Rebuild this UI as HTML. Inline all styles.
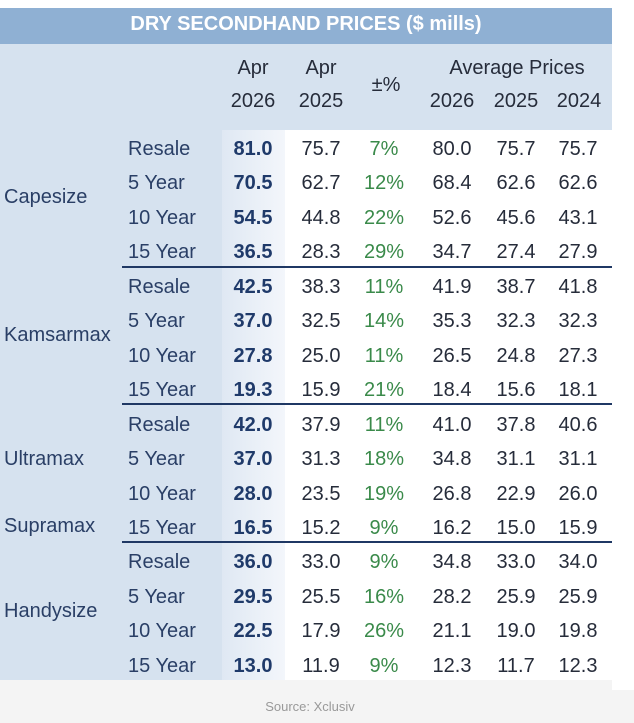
<!DOCTYPE html>
<html><head><meta charset="utf-8"><style>
body{margin:0;width:634px;height:723px;background:#f4f4f4;position:relative;overflow:hidden;font-family:"Liberation Sans",sans-serif;}
.a{position:absolute;white-space:nowrap;line-height:1;}
.c{transform:translateX(-50%);}
.n{font-size:20px;color:#262c3a;}
.b{font-weight:bold;color:#1f3a6a;}
.g{color:#3a8a4a;}
.l{font-size:20px;color:#2a3f66;}
.hline{position:absolute;left:122px;width:490px;height:2px;background:#1f3864;}
</style></head><body>
<div style="position:absolute;left:0;top:0;width:634px;height:8px;background:#fff"></div>
<div style="position:absolute;left:612px;top:0;width:22px;height:690px;background:#fff"></div>
<div style="position:absolute;left:0;top:8px;width:612px;height:36px;background:#8fb0d3"></div>
<div class="a c" style="left:306px;top:14px;font-size:20px;font-weight:bold;color:#fff">DRY SECONDHAND PRICES ($ mills)</div>
<div style="position:absolute;left:0;top:44px;width:612px;height:86px;background:#d6e2ef"></div>
<div style="position:absolute;left:0;top:130px;width:222px;height:550px;background:#d6e2ef"></div>
<div style="position:absolute;left:222px;top:130px;width:63px;height:550px;background:linear-gradient(90deg,#dfe8f3,#f3f6fb)"></div>
<div style="position:absolute;left:285px;top:130px;width:327px;height:550px;background:#fff"></div>
<div class="a c n" style="left:253px;top:58px">Apr</div>
<div class="a c n" style="left:253px;top:91px">2026</div>
<div class="a c n" style="left:321px;top:58px">Apr</div>
<div class="a c n" style="left:321px;top:91px">2025</div>
<div class="a c n" style="left:386px;top:75px">±%</div>
<div class="a c n" style="left:517px;top:58px">Average Prices</div>
<div class="a c n" style="left:452px;top:91px">2026</div>
<div class="a c n" style="left:516px;top:91px">2025</div>
<div class="a c n" style="left:579px;top:91px">2024</div>
<div class="hline" style="top:266px"></div>
<div class="hline" style="top:403px"></div>
<div class="hline" style="top:541px"></div>
<div class="a l" style="left:4px;top:187px">Capesize</div>
<div class="a l" style="left:4px;top:325px">Kamsarmax</div>
<div class="a l" style="left:4px;top:449px">Ultramax</div>
<div class="a l" style="left:4px;top:516px">Supramax</div>
<div class="a l" style="left:4px;top:601px">Handysize</div>
<div id="rows"></div>
<div class="a c" style="left:310px;top:700px;font-size:13px;color:#999">Source: Xclusiv</div>
<script>
var d=[["Resale","81.0","75.7","7%","80.0","75.7","75.7"],["5 Year","70.5","62.7","12%","68.4","62.6","62.6"],["10 Year","54.5","44.8","22%","52.6","45.6","43.1"],["15 Year","36.5","28.3","29%","34.7","27.4","27.9"],
["Resale","42.5","38.3","11%","41.9","38.7","41.8"],["5 Year","37.0","32.5","14%","35.3","32.3","32.3"],["10 Year","27.8","25.0","11%","26.5","24.8","27.3"],["15 Year","19.3","15.9","21%","18.4","15.6","18.1"],
["Resale","42.0","37.9","11%","41.0","37.8","40.6"],["5 Year","37.0","31.3","18%","34.8","31.1","31.1"],["10 Year","28.0","23.5","19%","26.8","22.9","26.0"],["15 Year","16.5","15.2","9%","16.2","15.0","15.9"],
["Resale","36.0","33.0","9%","34.8","33.0","34.0"],["5 Year","29.5","25.5","16%","28.2","25.9","25.9"],["10 Year","22.5","17.9","26%","21.1","19.0","19.8"],["15 Year","13.0","11.9","9%","12.3","11.7","12.3"]];
var xs=[253,321,384,452,516,578],h="";
for(var i=0;i<16;i++){var y=139+i*34.45;
var r=d[i];h+='<div class="a l" style="left:128px;top:'+y+'px">'+r[0]+'</div>';
for(var j=1;j<7;j++){var cl="a c n"+(j==1?" b":"")+(j==3?" g":"");
h+='<div class="'+cl+'" style="left:'+xs[j-1]+'px;top:'+y+'px">'+r[j]+'</div>';}}
document.getElementById("rows").innerHTML=h;
</script>
</body></html>
